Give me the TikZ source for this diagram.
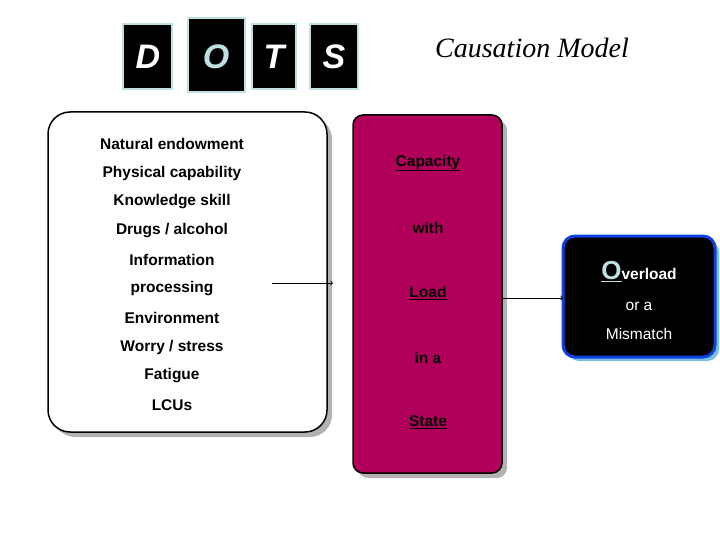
\documentclass[tikz,border=0pt]{standalone}
\usepackage{fontspec}
\setmainfont{Liberation Serif}
\setsansfont{Liberation Sans}
\definecolor{paleblue}{HTML}{BFE0E0}
\definecolor{maroon}{HTML}{B0005A}
\definecolor{ovblue}{HTML}{1040E0}
\tikzset{
  letterbox/.style={fill=black, draw=paleblue, line width=2pt, inner sep=0pt},
  letter/.style={text=white, font=\sffamily\bfseries\itshape\fontsize{34}{34}\selectfont},
  line/.style={font=\sffamily\bfseries\fontsize{15.5}{15.5}\selectfont, anchor=center}
}
\begin{document}
\begin{tikzpicture}[x=1pt, y=-1pt]
		\useasboundingbox (0,0) rectangle (720,540);
		
		% DOTS letters
		\draw[letterbox] (123,24) rectangle (172,89);
		\draw[letterbox] (188,18) rectangle (245,92);
		\draw[letterbox] (252,24) rectangle (296,89);
		\draw[letterbox] (310,24) rectangle (358,89);
		\node[letter] (d) at (148,57) {D};
		\node[letter, text=paleblue] (o) at (216,57) {O};
		\node[letter] (t) at (274,57) {T};
		\node[letter] (s) at (334,57) {S};
		\node[font=\itshape\fontsize{28}{28}\selectfont] (title) at (532,48) {Causation Model};
		
		% Factors
		\fill[gray!60, rounded corners=22pt] (53,117) rectangle (332,437);
		\draw[fill=white, line width=1.5pt, rounded corners=22pt] (48,112) rectangle (327,432);
		\foreach \txt [count=\i from 0] in {Natural endowment, Physical capability, Knowledge skill, Drugs / alcohol, Information, processing, Environment, Worry / stress, Fatigue, LCUs}
			\node[line] (f\i) at (172,{144+29*\i}) {\txt};
		
		% Capacity box
		\fill[gray!60, rounded corners=10pt] (358,120) rectangle (507,478);
		\draw[fill=maroon, line width=1.5pt, rounded corners=10pt] (353,115) rectangle (502,473);
		\node[line] (capacity) at (428,163) {\underline{Capacity}};
		\node[line] (with) at (428,228) {with};
		\node[line] (load) at (428,293) {\underline{Load}};
		\node[line] (ina) at (428,358) {in a};
		\node[line] (state) at (428,422) {\underline{State}};
		
		% Overload box
		\fill[cyan!60!teal!60, rounded corners=12pt] (567,240) rectangle (719,361);
		\draw[fill=black, draw=ovblue, line width=3pt, rounded corners=12pt] (563,236) rectangle (715,357);
		\node[line, text=white] (over) at (639,272) {\textcolor{paleblue}{\fontsize{26}{26}\selectfont\underline{O}}verload};
		\node[line, text=white, font=\sffamily\fontsize{15.5}{15.5}\selectfont] (ora) at (639,306) {or a};
		\node[line, text=white, font=\sffamily\fontsize{15.5}{15.5}\selectfont] (mis) at (639,334) {Mismatch};
		
		% Connect
		\coordinate (a1) at (272,283);
		\coordinate (a2) at (333,283);
		\coordinate (b1) at (502,298);
		\coordinate (b2) at (563,298);
		\draw[->, thick] (a1) -- (a2);
		\draw[->, thick] (b1) -- (b2);
		
	\end{tikzpicture}
\end{document}
